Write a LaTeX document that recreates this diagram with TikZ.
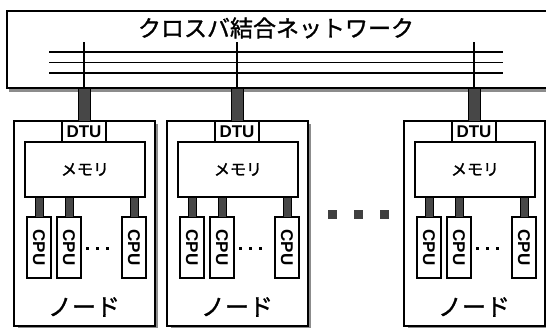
\documentclass[tikz,border=0pt]{standalone}
\usepackage{fontspec}
\newfontfamily\jp[FakeBold=1.2]{Noto Sans CJK JP}
\setsansfont{Liberation Sans}
\usetikzlibrary{calc}
\begin{document}
\begin{tikzpicture}[x=1pt,y=-1pt,
  box/.style={draw=black,line width=1.1pt,fill=white,inner sep=0pt,outer sep=0pt,anchor=north west},
  link/.style={draw=black,line width=0.6pt,fill=black!72},
  bus/.style={draw=black,line width=1.1pt},
  tap/.style={draw=black,line width=1.4pt},
  shade/.style={fill=black!45},
  dtufont/.style={font=\sffamily\bfseries\fontsize{17}{17}\selectfont},
  cpufont/.style={font=\sffamily\bfseries\fontsize{17}{17}\selectfont},
  memfont/.style={font=\jp\fontsize{16}{16}\selectfont},
  nodefont/.style={font=\jp\fontsize{24}{24}\selectfont},
  dot/.style={fill=black,inner sep=0pt,minimum size=3pt,rectangle},
  bigdot/.style={fill=black!75,inner sep=0pt,minimum size=9pt,rectangle}]
\useasboundingbox (0,0) rectangle (546,327);
\clip (0,0) rectangle (546,327);
\fill[white] (0,0) rectangle (546,327);
% network box
\fill[shade] (9,86) rectangle (560,92);
\node[box,minimum width=553pt,minimum height=77pt] (net) at (7,11) {};
\node[font=\jp\fontsize{23}{23}\selectfont] (title) at (276,28) {クロスバ結合ネットワーク};
\foreach \y/\k in {52/1,62.5/2,73/3} {
  \coordinate (bw\k) at (49,\y);
  \coordinate (be\k) at (503,\y);
  \draw[bus] (bw\k) -- (be\k);
}
% ellipsis squares between nodes
\node[bigdot] (m1) at (332,214) {};
\node[bigdot] (m2) at (358,214) {};
\node[bigdot] (m3) at (384,214) {};
% nodes
\foreach \L/\i in {14/1,167/2,404/3} {
  \fill[shade] (\L+4,124) rectangle (\L+144,328);
  \node[box,minimum width=141pt,minimum height=205pt] (node\i) at (\L,121) {};
  \node[box,dtufont,minimum width=44pt,minimum height=21pt,anchor=north] (dtu\i) at (\L+70,121) {DTU};
  \coordinate (tp\i) at (\L+70,42);
  \path (dtu\i.north) ++(-6,0) coordinate (ua\i);
  \path (dtu\i.north) ++(6,0) coordinate (ub\i);
  \draw[link] (ua\i |- net.south) rectangle (ub\i);
  \draw[tap] (tp\i) -- (tp\i |- net.south);
  \node[box,minimum width=120pt,minimum height=55pt] (mem\i) at (\L+11,142) {};
  \node[memfont] (memt\i) at (mem\i.center) {メモリ};
  \node[box,cpufont,minimum width=24pt,minimum height=61pt] (cpu\i a) at (\L+13,217) {\rotatebox{-90}{CPU}};
  \node[box,cpufont,minimum width=24pt,minimum height=61pt] (cpu\i b) at (\L+43,217) {\rotatebox{-90}{CPU}};
  \node[box,cpufont,minimum width=24pt,minimum height=61pt] (cpu\i c) at (\L+108,217) {\rotatebox{-90}{CPU}};
  \foreach \c in {a,b,c} {
    \path (cpu\i\c.north) ++(-4,0) coordinate (ca\i\c);
    \path (cpu\i\c.north) ++(4,0) coordinate (cb\i\c);
    \draw[link] (ca\i\c |- mem\i.south) rectangle (cb\i\c);
  }
  \node[dot] (d\i a) at (\L+73,248) {};
  \node[dot] (d\i b) at (\L+83,248) {};
  \node[dot] (d\i c) at (\L+93,248) {};
  \node[nodefont] (lab\i) at (\L+70,307) {ノード};
}
\end{tikzpicture}
\end{document}
